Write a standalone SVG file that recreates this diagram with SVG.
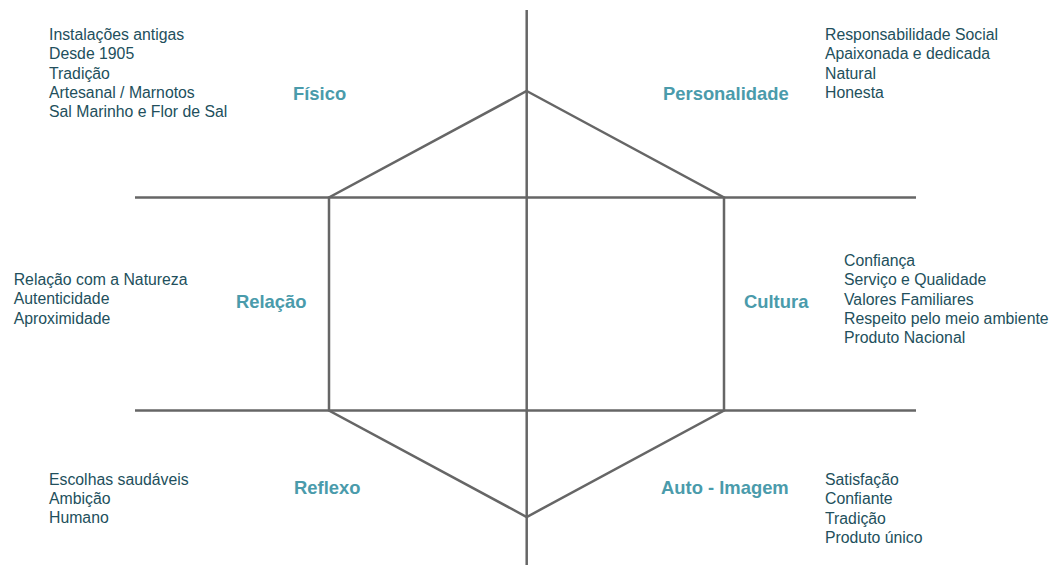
<svg xmlns="http://www.w3.org/2000/svg" width="1057" height="565" viewBox="0 0 1057 565">
<style>
.ln{stroke:#666;stroke-width:2.5;fill:none;stroke-linejoin:miter}
.t{font-family:"Liberation Sans",Arial,sans-serif;font-size:15.8px;fill:#224f5c}
.h{font-family:"Liberation Sans",Arial,sans-serif;font-size:18.4px;font-weight:bold;fill:#4a9bab}
</style>
<rect width="1057" height="565" fill="#fff"/>
<g id="connectors">
<line class="ln" x1="526.7" y1="10" x2="526.7" y2="565"/>
<line class="ln" x1="135" y1="197.5" x2="916" y2="197.5"/>
<line class="ln" x1="135" y1="410.5" x2="916" y2="410.5"/>
<polygon class="ln" points="526.7,91 724,197.5 724,410.5 526.7,517 329,410.5 329,197.5"/>
</g>
<g id="fisico">
<text class="h" x="293" y="100">Físico</text>
<text class="t" x="49" y="40">Instalações antigas</text>
<text class="t" x="49" y="59.3">Desde 1905</text>
<text class="t" x="49" y="78.6">Tradição</text>
<text class="t" x="49" y="97.9">Artesanal / Marnotos</text>
<text class="t" x="49" y="117.2">Sal Marinho e Flor de Sal</text>
</g>
<g id="personalidade">
<text class="h" x="663" y="100">Personalidade</text>
<text class="t" x="825" y="40">Responsabilidade Social</text>
<text class="t" x="825" y="59.3">Apaixonada e dedicada</text>
<text class="t" x="825" y="78.6">Natural</text>
<text class="t" x="825" y="97.9">Honesta</text>
</g>
<g id="relacao">
<text class="h" x="236" y="308">Relação</text>
<text class="t" x="13.7" y="285">Relação com a Natureza</text>
<text class="t" x="13.7" y="304.3">Autenticidade</text>
<text class="t" x="13.7" y="323.6">Aproximidade</text>
</g>
<g id="cultura">
<text class="h" x="744" y="308">Cultura</text>
<text class="t" x="844" y="266">Confiança</text>
<text class="t" x="844" y="285.3">Serviço e Qualidade</text>
<text class="t" x="844" y="304.6">Valores Familiares</text>
<text class="t" x="844" y="323.9">Respeito pelo meio ambiente</text>
<text class="t" x="844" y="343.2">Produto Nacional</text>
</g>
<g id="reflexo">
<text class="h" x="294" y="494">Reflexo</text>
<text class="t" x="49" y="484.5">Escolhas saudáveis</text>
<text class="t" x="49" y="503.8">Ambição</text>
<text class="t" x="49" y="523.1">Humano</text>
</g>
<g id="auto-imagem">
<text class="h" x="661" y="494">Auto - Imagem</text>
<text class="t" x="825" y="485">Satisfação</text>
<text class="t" x="825" y="504.3">Confiante</text>
<text class="t" x="825" y="523.6">Tradição</text>
<text class="t" x="825" y="542.9">Produto único</text>
</g>
</svg>
